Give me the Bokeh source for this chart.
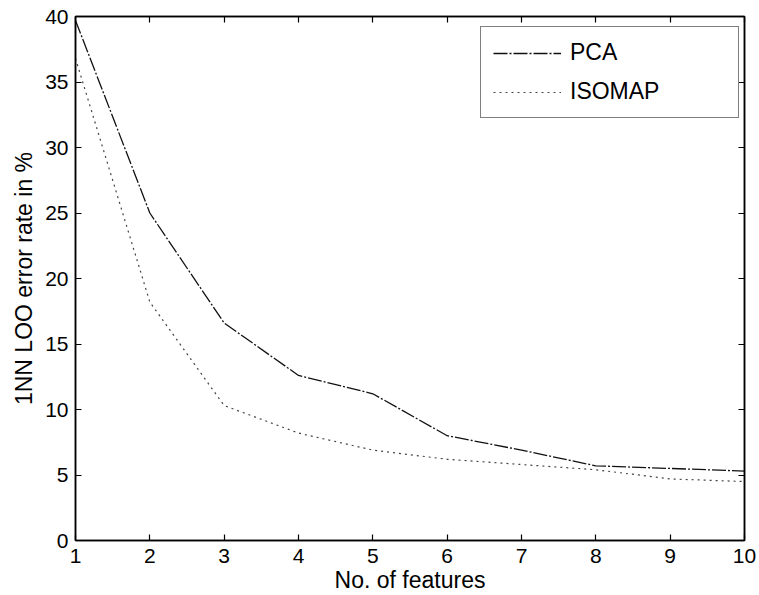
from bokeh.plotting import figure
from bokeh.models import Range1d, FixedTicker, LinearAxis, Legend, LegendItem
from bokeh.embed import file_html
from bokeh.resources import INLINE

features = [1, 2, 3, 4, 5, 6, 7, 8, 9, 10]
pca = [39.7, 25.0, 16.6, 12.6, 11.2, 8.0, 6.9, 5.7, 5.5, 5.3]
isomap = [36.8, 18.2, 10.3, 8.2, 6.9, 6.2, 5.8, 5.4, 4.7, 4.5]
x_ticks = [1, 2, 3, 4, 5, 6, 7, 8, 9, 10]
y_ticks = [0, 5, 10, 15, 20, 25, 30, 35, 40]
series_names = ["PCA", "ISOMAP"]

FONT = "Liberation Sans"

p = figure(width=759, height=595, output_backend="svg", toolbar_location=None,
           x_range=Range1d(1, 10), y_range=Range1d(0, 40),
           min_border_left=75, min_border_right=15, min_border_top=16, min_border_bottom=54)
p.background_fill_color = "white"
p.border_fill_color = "white"
p.outline_line_color = "black"
p.outline_line_width = 1.5
p.xgrid.visible = False
p.ygrid.visible = False

def style_axis(ax, labels=True, ticks=None):
    ax.axis_line_color = "black"
    ax.axis_line_width = 1.5
    ax.major_tick_in = 6
    ax.major_tick_out = 0
    ax.minor_tick_line_color = None
    ax.major_tick_line_color = "black"
    ax.major_tick_line_width = 1.2
    ax.major_label_text_font = FONT
    ax.major_label_text_color = "black"
    ax.major_label_text_font_size = "21px"
    if not labels:
        ax.major_label_overrides = {t: "" for t in ticks}
        ax.major_label_standoff = 0

p.xaxis.ticker = FixedTicker(ticks=x_ticks)
p.yaxis.ticker = FixedTicker(ticks=y_ticks)
style_axis(p.xaxis[0])
style_axis(p.yaxis[0])
p.xaxis.major_label_standoff = 8
p.yaxis.major_label_standoff = 7
p.xaxis.axis_label = "No. of features"
p.yaxis.axis_label = "1NN LOO error rate in %"
for ax in (p.xaxis[0], p.yaxis[0]):
    ax.axis_label_text_font = FONT
    ax.axis_label_text_font_size = "23px"
    ax.axis_label_text_font_style = "normal"
    ax.axis_label_text_color = "black"
p.xaxis.axis_label_standoff = 1
p.yaxis.axis_label_standoff = 5

top_ax = LinearAxis(ticker=FixedTicker(ticks=x_ticks))
style_axis(top_ax, labels=False, ticks=x_ticks)
p.add_layout(top_ax, "above")
right_ax = LinearAxis(ticker=FixedTicker(ticks=y_ticks))
style_axis(right_ax, labels=False, ticks=y_ticks)
p.add_layout(right_ax, "right")

r_pca = p.line(features, pca, line_color="#111111", line_width=1.3, line_dash="14 2 2 2")
r_iso = p.line(features, isomap, line_color="#444444", line_width=1.2, line_dash="2 4")

legend = Legend(items=[LegendItem(label=series_names[0], renderers=[r_pca]),
                       LegendItem(label=series_names[1], renderers=[r_iso])],
                location=(405, 422))
legend.border_line_color = "black"
legend.border_line_width = 1.2
legend.background_fill_color = "white"
legend.background_fill_alpha = 1.0
legend.label_text_font = FONT
legend.label_text_font_size = "23px"
legend.label_text_color = "black"
legend.glyph_width = 68
legend.glyph_height = 26
legend.label_height = 26
legend.label_width = 156
legend.label_standoff = 9
legend.padding = 12
legend.spacing = 12
legend.margin = 0
p.add_layout(legend, "center")

open("out.html", "w").write(file_html(p, INLINE))
